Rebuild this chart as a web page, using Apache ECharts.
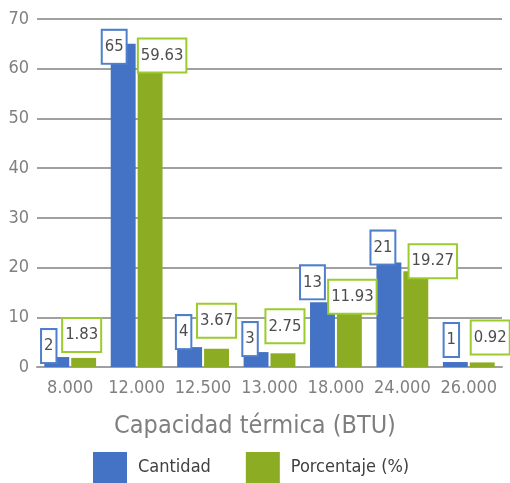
<!DOCTYPE html>
<html>
<head>
<meta charset="utf-8">
<script src="https://cdn.jsdelivr.net/npm/echarts@6/dist/echarts.min.js"></script>
<style>
  html, body { margin: 0; padding: 0; background: #fff; }
  #chart { width: 510px; height: 483px; }
</style>
</head>
<body>
<div id="chart"></div>
<script>
// Capacity classes (BTU) and the two series shown for each
const categories = ['8.000', '12.000', '12.500', '13.000', '18.000', '24.000', '26.000'];
const cantidad = [2, 65, 4, 3, 13, 21, 1];
const porcentaje = [1.83, 59.63, 3.67, 2.75, 11.93, 19.27, 0.92];
const yTicks = [0, 10, 20, 30, 40, 50, 60, 70];

// Hand-placed label nudges [dx, dy] from the top centre of each bar
const cantidadLabelShift = [[-8, -11], [-9, 3], [-6, -15], [-6, -13], [-10, -20], [-6, -15], [-4, -22]];
const porcentajeLabelShift = [[-2, -23], [12, -15], [0, -28], [2, -27], [3, -11], [17, -10], [8, -25]];

const FONT = '"DejaVu Sans Condensed", "DejaVu Sans", sans-serif';
const BLUE = '#4472C4';
const GREEN = '#8CAC24';
const BLUE_EDGE = '#4F7FCB';
const GREEN_EDGE = '#9CCB2E';

function labelledData(values, shifts, edge) {
  return values.map((v, i) => ({
    value: v,
    label: {
      show: true,
      position: ['50%', 0],
      align: 'center',
      verticalAlign: 'middle',
      offset: shifts[i],
      formatter: String(v),
      backgroundColor: '#ffffff',
      borderColor: edge,
      borderWidth: 2,
      padding: [8, 2, 8, 2],
      color: '#4D4D4D',
      fontFamily: FONT,
      fontSize: 16.5,
      lineHeight: 16
    }
  }));
}

const chart = echarts.init(document.getElementById('chart'), null, { renderer: 'canvas' });
chart.setOption({
  animation: false,
  backgroundColor: '#ffffff',
  textStyle: { fontFamily: FONT },
  grid: { left: 37, right: 8, top: 19, bottom: 116, containLabel: false },
  legend: {
    bottom: 0,
    left: 93,
    padding: 0,
    itemWidth: 34,
    itemHeight: 31,
    itemGap: 35,
    icon: 'rect',
    textStyle: { fontFamily: FONT, fontSize: 18, color: '#404040', padding: [0, 0, 0, 6] },
    data: ['Cantidad', 'Porcentaje (%)']
  },
  xAxis: {
    type: 'category',
    data: categories,
    name: 'Capacidad térmica (BTU)',
    nameLocation: 'middle',
    nameGap: 47,
    // title is centred on the whole canvas rather than the plot area
    nameTextStyle: { fontFamily: FONT, fontSize: 25, color: '#7F7F7F', padding: [0, 29, 0, 0] },
    axisLine: { show: true, lineStyle: { color: '#A0A0A0', width: 2 } },
    axisTick: { show: false },
    axisLabel: { fontFamily: FONT, fontSize: 18, color: '#808080', margin: 12, interval: 0 }
  },
  yAxis: {
    type: 'value',
    min: yTicks[0],
    max: yTicks[yTicks.length - 1],
    interval: yTicks[1] - yTicks[0],
    axisLine: { show: false },
    axisTick: { show: false },
    axisLabel: { fontFamily: FONT, fontSize: 18, color: '#808080', margin: 8 },
    splitLine: { lineStyle: { color: '#A0A0A0', width: 2 } }
  },
  series: [
    {
      name: 'Cantidad',
      type: 'bar',
      barWidth: '37.5%',
      barGap: '8%',
      itemStyle: { color: BLUE },
      data: labelledData(cantidad, cantidadLabelShift, BLUE_EDGE)
    },
    {
      name: 'Porcentaje (%)',
      type: 'bar',
      barWidth: '37.5%',
      itemStyle: { color: GREEN },
      data: labelledData(porcentaje, porcentajeLabelShift, GREEN_EDGE)
    }
  ]
});
</script>
</body>
</html>
